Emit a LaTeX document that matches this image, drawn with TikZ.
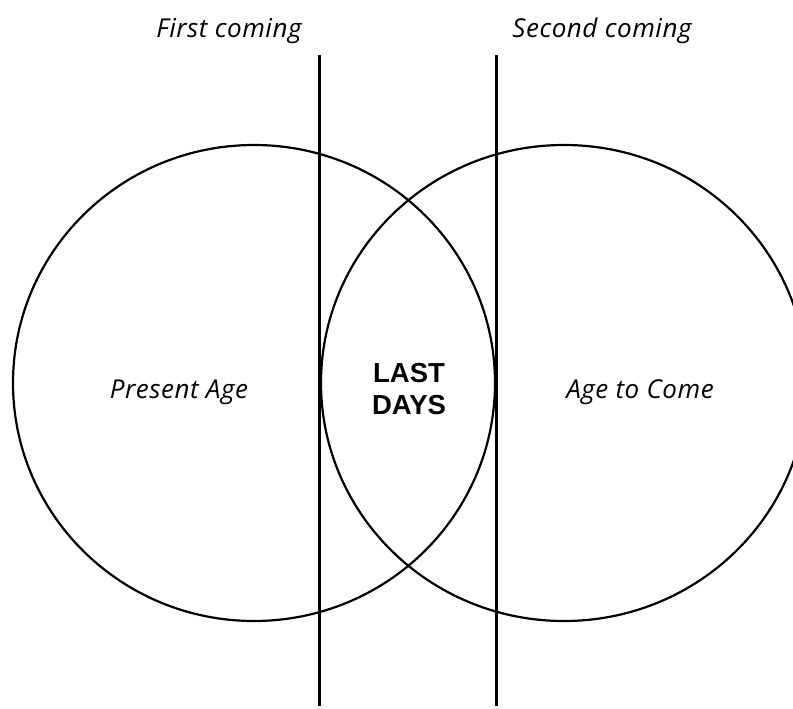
\documentclass[tikz,border=0pt]{standalone}
\usepackage{fontspec}
\setmainfont{Open Sans}
\newfontfamily\italfont[LetterSpace=2]{Open Sans}
\newfontfamily\boldsans{Liberation Sans}
\begin{document}
\begin{tikzpicture}[x=1pt,y=-1pt,
  ln/.style={line width=2.2pt,black},
  ital/.style={font=\fontsize{26}{30}\selectfont\italfont\itshape, inner sep=0pt, anchor=base},
  bold/.style={font=\fontsize{27.5}{32}\selectfont\boldsans\bfseries, align=center, inner sep=0pt}]
\useasboundingbox (0,0) rectangle (793,709);
\draw[ln] (254,383) ellipse [x radius=241, y radius=238];
\draw[ln] (564,383) ellipse [x radius=243, y radius=238];
\coordinate (l1t) at (319.5,55);
\coordinate (l1b) at (319.5,706);
\coordinate (l2t) at (496.5,55);
\coordinate (l2b) at (496.5,706);
\draw[ln] (l1t) -- (l1b);
\draw[ln] (l2t) -- (l2b);
\node[ital] (first) at (229,38) {First coming};
\node[ital] (second) at (602,38) {Second coming};
\node[ital] (present) at (179,398) {Present Age};
\node[ital] (come) at (640,398) {Age to Come};
\node[bold] (last) at (409,389) {LAST\\DAYS};
\end{tikzpicture}
\end{document}
